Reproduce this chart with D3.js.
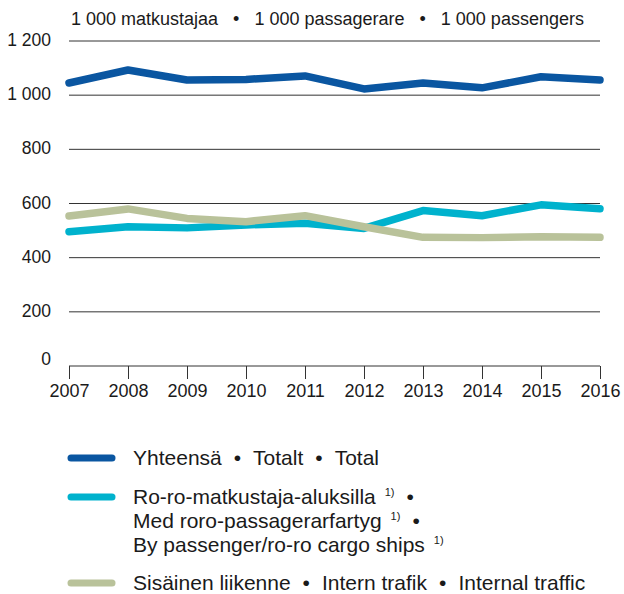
<!DOCTYPE html>
<html>
<head>
<meta charset="utf-8">
<script src="https://cdn.jsdelivr.net/npm/d3@7"></script>
<style>
  body { margin: 0; background: #fff; }
  svg { font-family: "Liberation Sans", Arial, sans-serif; }
</style>
</head>
<body>
<div id="chart"></div>
<script>
(function () {

    const years = [2007, 2008, 2009, 2010, 2011, 2012, 2013, 2014, 2015, 2016]
    const total = [1045, 1093, 1056, 1058, 1071, 1023, 1045, 1027, 1068, 1056]
    const roro = [496, 514, 510, 521, 527, 508, 574, 555, 595, 581]
    const internal = [554, 580, 545, 533, 555, 514, 475, 474, 477, 475]
    const yTicks = [0, 200, 400, 600, 800, 1000, 1200]
    const unitParts = ['1\u00a0000 matkustajaa', '1\u00a0000 passagerare', '1\u00a0000 passengers']

    const series = [
        { name: 'roro', values: roro, color: '#00b2cd' },
        { name: 'internal', values: internal, color: '#b9c29a' },
        { name: 'total', values: total, color: '#0a56a1' }
    ]

    const width = 624
    const height = 594

    const svg = d3.select('#chart')
        .append('svg')
        .attr('width', width)
        .attr('height', height)

    const x = d3.scaleLinear().domain([2007, 2016]).range([69, 600])
    const y = d3.scaleLinear().domain([0, 1200]).range([366, 41])

    const fmt = v => d3.format(',')(v).replace(',', '\u00a0')

    // text made of parts joined with bullets
    function bulletText(t, parts, gap) {
        parts.forEach((p, i) => {
            if (i > 0) {
                t.append('tspan').attr('dx', gap).text('\u2022')
                t.append('tspan').attr('dx', gap).text(p)
            } else {
                t.append('tspan').text(p)
            }
        })
    }

    const title = svg.append('text')
        .attr('x', 71)
        .attr('y', 25)
        .attr('font-size', 18)
        .attr('fill', '#1a1a1a')
    bulletText(title, unitParts, 15)

    // grid
    svg.append('g')
        .selectAll('line')
        .data(yTicks.filter(d => d > 0))
        .join('line')
        .attr('x1', x(2007))
        .attr('x2', x(2016))
        .attr('y1', d => y(d))
        .attr('y2', d => y(d))
        .attr('stroke', '#333')
        .attr('stroke-width', 1)

    svg.append('g')
        .selectAll('text')
        .data(yTicks)
        .join('text')
        .attr('x', 51)
        .attr('y', d => y(d) - (d === 0 ? 1 : -5))
        .attr('text-anchor', 'end')
        .attr('font-size', 17.5)
        .attr('fill', '#1a1a1a')
        .text(fmt)

    // x axis
    const xAxis = d3.axisBottom(x)
        .tickValues(years)
        .tickFormat(d3.format('d'))
        .tickSize(13)
        .tickPadding(5)

    const gx = svg.append('g')
        .attr('transform', 'translate(0,' + y(0) + ')')
        .call(xAxis)

    gx.select('.domain').attr('stroke', '#333').attr('d', 'M' + x(2007) + ',0H' + x(2016))
    gx.selectAll('.tick line').attr('stroke', '#333')
    gx.selectAll('.tick text')
        .attr('font-size', 18)
        .attr('font-family', '"Liberation Sans", Arial, sans-serif')
        .attr('fill', '#1a1a1a')

    const line = d3.line()
        .x((d, i) => x(years[i]))
        .y(d => y(d))

    svg.append('g')
        .selectAll('path')
        .data(series)
        .join('path')
        .attr('d', d => line(d.values))
        .attr('fill', 'none')
        .attr('stroke', d => d.color)
        .attr('stroke-width', 7.5)
        .attr('stroke-linejoin', 'round')
        .attr('stroke-linecap', 'round')

    // legend
    const legendItems = [
        { color: '#0a56a1', y: 458, lines: [{ parts: ['Yhteensä', 'Totalt', 'Total'] }] },
        { color: '#00b2cd', y: 497, lines: [
            { parts: ['Ro-ro-matkustaja-aluksilla'], note: true, bullet: true },
            { parts: ['Med roro-passagerarfartyg'], note: true, bullet: true },
            { parts: ['By passenger/ro-ro cargo ships'], note: true }
        ] },
        { color: '#b9c29a', y: 583, lines: [{ parts: ['Sisäinen liikenne', 'Intern trafik', 'Internal traffic'] }] }
    ]

    const legend = svg.append('g')
        .selectAll('g')
        .data(legendItems)
        .join('g')

    legend.append('line')
        .attr('x1', 71)
        .attr('x2', 112)
        .attr('y1', d => d.y)
        .attr('y2', d => d.y)
        .attr('stroke', d => d.color)
        .attr('stroke-width', 7)
        .attr('stroke-linecap', 'round')

    legend.each(function (d) {
        const g = d3.select(this)
        d.lines.forEach((l, i) => {
            const t = g.append('text')
                .attr('x', 133)
                .attr('y', d.y + 7 + i * 24)
                .attr('font-size', 21)
                .attr('fill', '#1a1a1a')
            bulletText(t, l.parts, 12)
            if (l.note) {
                t.append('tspan')
                    .attr('dx', 9)
                    .attr('dy', -8)
                    .attr('font-size', 11)
                    .text('1)')
                if (l.bullet) {
                    t.append('tspan')
                        .attr('dx', 12)
                        .attr('dy', 8)
                        .text('\u2022')
                }
            }
        })
    })
})();
</script>
</body>
</html>
